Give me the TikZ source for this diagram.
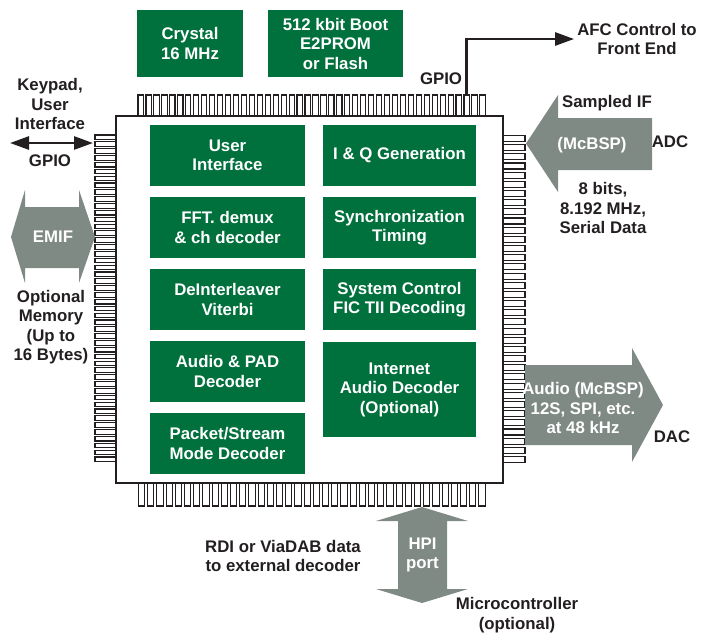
\documentclass[tikz,border=0pt]{standalone}
\usepackage{fontspec}
\setmainfont{Liberation Sans}
\usetikzlibrary{arrows.meta}
\definecolor{chipgreen}{RGB}{0,112,60}
\definecolor{portgray}{RGB}{128,138,133}
\definecolor{ink}{RGB}{35,31,32}
\tikzset{wiretip/.tip={Triangle[length=19pt,width=13pt]}}
\begin{document}
\begin{tikzpicture}[x=1pt,y=-1pt,
  lbl/.style={font=\fontsize{16.8}{19.5}\selectfont\bfseries, text=ink, align=center, inner sep=0pt},
  wlbl/.style={lbl, text=white},
  blk/.style={fill=chipgreen, text=white, font=\fontsize{16.8}{19.5}\selectfont\bfseries,
    align=center, inner sep=0pt, minimum height=61pt},
  pinbox/.style={draw=ink, fill=white, line width=1.1pt},
  wire/.style={draw=ink, line width=2.6pt},
  port/.style={fill=portgray}]
\useasboundingbox (0,0) rectangle (711,633);

% pins on the four sides of the package
\foreach \i in {0,...,43} \draw[pinbox] ({138+\i*7.95},95) rectangle ++(5.2,21);
\foreach \i in {0,...,37} \draw[pinbox] ({138.5+\i*9.2},483) rectangle ++(6.2,23);
\foreach \i in {0,...,47} \draw[pinbox] (95,{135+\i*6.85}) rectangle ++(21,4.6);
\foreach \i in {0,...,35} \draw[pinbox] (503,{135.5+\i*9.17}) rectangle ++(22,6);

% package body
\node[draw=ink, fill=white, line width=2.6pt, inner sep=0pt,
  minimum width=387pt, minimum height=367pt] (chip) at (309.5,299.5) {};

% external memories
\node[blk, minimum width=106pt, minimum height=67pt] (crystal) at (190,43.5) {Crystal\\16 MHz};
\node[blk, minimum width=135pt, minimum height=67pt] (boot) at (335.5,43.5) {512 kbit Boot\\E2PROM\\or Flash};

% internal function blocks, left column
\node[blk, minimum width=155pt] (ui)     at (227.5,155.5) {User\\Interface};
\node[blk, minimum width=155pt] (fft)    at (227.5,227.5) {FFT. demux\\\& ch decoder};
\node[blk, minimum width=155pt] (deint)  at (227.5,299.5) {DeInterleaver\\Viterbi};
\node[blk, minimum width=155pt] (pad)    at (227.5,371.5) {Audio \& PAD\\Decoder};
\node[blk, minimum width=155pt] (packet) at (227.5,443.5) {Packet/Stream\\Mode Decoder};

% internal function blocks, right column
\node[blk, minimum width=153pt] (iq)     at (399.5,155.5) {I \& Q Generation};
\node[blk, minimum width=153pt] (sync)   at (399.5,227.5) {Synchronization\\Timing};
\node[blk, minimum width=153pt] (sysctl) at (399.5,299.5) {System Control\\FIC TII Decoding};
\node[blk, minimum width=153pt, minimum height=95pt] (inet) at (399.5,389.5) {Internet\\Audio Decoder\\(Optional)};

% EMIF double block arrow
\fill[port] (11,237) -- (25,190) -- (25,207) -- (79,207) -- (79,190) -- (95,237)
  -- (79,283) -- (79,268) -- (25,268) -- (25,283) -- cycle;
\node[wlbl] (emif) at (53,237) {EMIF};

% ADC input block arrow
\fill[port] (526,143.5) -- (558,95) -- (558,118) -- (652,118) -- (652,170)
  -- (558,170) -- (558,192) -- cycle;
\node[wlbl] (mcbsp) at (592,145) {(McBSP)};

% DAC output block arrow
\fill[port] (525,365) -- (632,365) -- (632,348) -- (663,405) -- (632,462)
  -- (632,445) -- (525,445) -- cycle;
\node[wlbl] (audio) at (583,408) {Audio (McBSP)\\12S, SPI, etc.\\at 48 kHz};

% HPI double block arrow
\fill[port] (422,507) -- (468,521) -- (447,521) -- (447,589) -- (468,589) -- (422,603)
  -- (376,589) -- (398,589) -- (398,521) -- (376,521) -- cycle;
\node[wlbl] (hpi) at (422.5,555) {HPI\\port};

% outside labels
\node[lbl] (keypad)  at (50,104)  {Keypad,\\User\\Interface};
\node[lbl] (gpiol)   at (50,161)  {GPIO};
\node[lbl] (memory)  at (51,327)  {Optional\\Memory\\(Up to\\16 Bytes)};
\node[lbl] (gpiot)   at (441,79)  {GPIO};
\node[lbl] (afc)     at (637,39)  {AFC Control to\\Front End};
\node[lbl] (sampled) at (607,103) {Sampled IF};
\node[lbl] (adc)     at (670,142) {ADC};
\node[lbl] (bits)    at (603,208) {8 bits,\\8.192 MHz,\\Serial Data};
\node[lbl] (dac)     at (672,437) {DAC};
\node[lbl] (rdi)     at (283,556) {RDI or ViaDAB data\\to external decoder};
\node[lbl] (micro)   at (517,615) {Microcontroller\\(optional)};

% GPIO connectors
\coordinate (gpiopin) at (466.5,96);
\coordinate (kpL) at (10,143);
\coordinate (kpR) at (93,143);
\draw[wire, -{wiretip}, shorten >=3pt] (gpiopin) |- (afc.west);
\draw[wire, {wiretip}-{wiretip}] (kpL) -- (kpR);
\end{tikzpicture}
\end{document}
